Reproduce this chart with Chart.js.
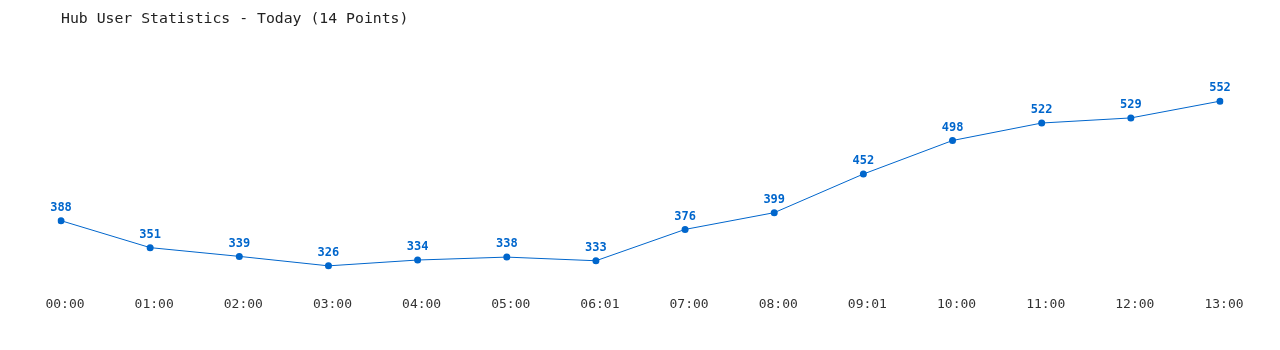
<!DOCTYPE html>
<html>
<head>
<meta charset="utf-8">
<script src="https://cdn.jsdelivr.net/npm/chart.js@4/dist/chart.umd.min.js"></script>
<style>
html,body{margin:0;padding:0;background:#fff;}
#wrap{width:1280px;height:350px;position:relative;}
</style>
</head>
<body>
<div id="wrap"><canvas id="c" width="1280" height="350"></canvas></div>
<script>
const categories = ["00:00","01:00","02:00","03:00","04:00","05:00","06:01","07:00","08:00","09:01","10:00","11:00","12:00","13:00"];
const users = [388,351,339,326,334,338,333,376,399,452,498,522,529,552];
const titleText = "Hub User Statistics - Today (14 Points)";

const valueLabels = {
  id: 'valueLabels',
  afterDatasetsDraw(chart) {
    const ctx = chart.ctx;
    const meta = chart.getDatasetMeta(0);
    ctx.save();
    ctx.font = "bold 12px 'DejaVu Sans Mono', monospace";
    ctx.fillStyle = "#0066cc";
    ctx.textAlign = "center";
    ctx.textBaseline = "middle";
    meta.data.forEach((pt, i) => {
      ctx.fillText(String(users[i]), pt.x, pt.y - 13);
    });
    ctx.restore();
  }
};

new Chart(document.getElementById('c'), {
  type: 'line',
  data: {
    labels: categories,
    datasets: [{
      data: users,
      borderColor: '#0066cc',
      backgroundColor: '#0066cc',
      borderWidth: 1,
      pointRadius: 3.5,
      pointHoverRadius: 3.5,
      pointBackgroundColor: '#0066cc',
      pointBorderWidth: 0,
      tension: 0,
      fill: false
    }]
  },
  options: {
    responsive: false,
    animation: false,
    events: [],
    layout: { padding: { left: 61, right: 60, top: 0, bottom: 33.6 } },
    plugins: {
      legend: { display: false },
      tooltip: { enabled: false },
      title: {
        display: true,
        text: titleText,
        align: 'start',
        color: '#222',
        font: { family: "'DejaVu Sans Mono', monospace", size: 14.8, weight: 'normal' },
        padding: { top: 10, bottom: 53 }
      }
    },
    scales: {
      x: {
        offset: false,
        grid: { display: false },
        border: { display: false },
        ticks: {
          color: '#333',
          font: { family: "'DejaVu Sans Mono', monospace", size: 13 },
          padding: 4,
          labelOffset: 4,
          maxRotation: 0,
          autoSkip: false
        }
      },
      y: {
        display: false,
        min: 300,
        max: 580
      }
    }
  },
  plugins: [valueLabels]
});
</script>
</body>
</html>
